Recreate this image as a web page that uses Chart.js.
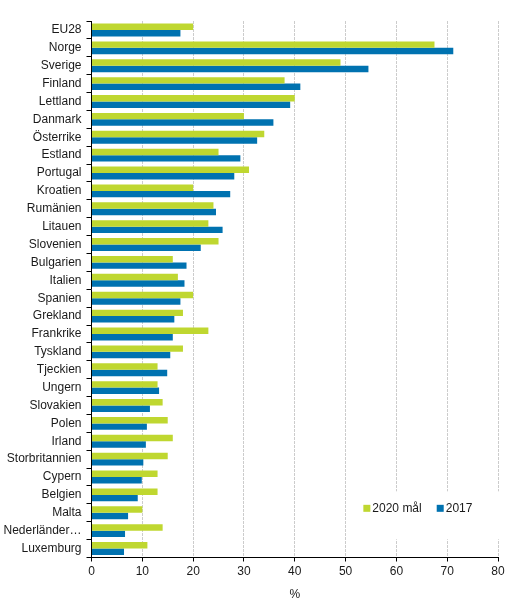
<!DOCTYPE html>
<html>
<head>
<meta charset="utf-8">
<script src="https://cdn.jsdelivr.net/npm/chart.js@4/dist/chart.umd.min.js"></script>
<style>
  html, body { margin: 0; padding: 0; background: #fff; }
  #wrap { width: 514px; height: 611px; position: relative; }
</style>
</head>
<body>
<div id="wrap"><canvas id="c"></canvas></div>
<script>
const categories = ["EU28","Norge","Sverige","Finland","Lettland","Danmark","Österrike","Estland","Portugal","Kroatien","Rumänien","Litauen","Slovenien","Bulgarien","Italien","Spanien","Grekland","Frankrike","Tyskland","Tjeckien","Ungern","Slovakien","Polen","Irland","Storbritannien","Cypern","Belgien","Malta","Nederländer…","Luxemburg"];
const target2020 = [20,67.5,49,38,40,30,34,25,31,20,24,23,25,16,17,20,18,23,18,13,13,14,15,16,15,13,13,10,14,11];
const share2017 = [17.5,71.2,54.5,41.1,39.1,35.8,32.6,29.3,28.1,27.3,24.5,25.8,21.5,18.7,18.3,17.5,16.3,16.0,15.5,14.9,13.3,11.5,10.9,10.7,10.2,9.9,9.1,7.2,6.6,6.4];
const seriesNames = ["2020 mål","2017"];
const seriesColors = ["#bfd730","#0072b0"];
const xTicks = [0,10,20,30,40,50,60,70,80];
const axisTitle = "%";

const FONT = "'Liberation Sans', Arial, sans-serif";

const insideLegend = {
  id: 'insideLegend',
  afterDatasetsDraw(chart) {
    const ctx = chart.ctx;
    const xs = chart.scales.x, ys = chart.scales.y;
    const x0 = xs.getPixelForValue(53.5);
    const yc = ys.getPixelForValue(26.75);
    ctx.save();
    ctx.fillStyle = '#fff';
    ctx.fillRect(xs.getPixelForValue(51.5), yc - 17, xs.getPixelForValue(80) - xs.getPixelForValue(51.5) + 3, 48);
    ctx.font = "12px " + FONT;
    ctx.textBaseline = 'middle';
    let x = x0;
    seriesNames.forEach((name, i) => {
      ctx.fillStyle = seriesColors[i];
      ctx.fillRect(x, yc - 3.5, 7, 7);
      ctx.fillStyle = '#1a1a1a';
      ctx.fillText(name, x + 9, yc);
      x += 9 + ctx.measureText(name).width + 15;
    });
    ctx.restore();
  }
};

new Chart(document.getElementById('c'), {
  type: 'bar',
  data: {
    labels: categories,
    datasets: [
      { label: seriesNames[0], data: target2020, backgroundColor: seriesColors[0] },
      { label: seriesNames[1], data: share2017, backgroundColor: seriesColors[1] }
    ]
  },
  options: {
    indexAxis: 'y',
    responsive: true,
    maintainAspectRatio: false,
    animation: false,
    datasets: { bar: { categoryPercentage: 0.72, barPercentage: 1.0 } },
    layout: { padding: { top: 21, right: 16, left: 0, bottom: 0 } },
    plugins: {
      legend: { display: false },
      tooltip: { enabled: false }
    },
    scales: {
      x: {
        min: 0, max: 80,
        afterBuildTicks(scale) { scale.ticks = xTicks.map(v => ({ value: v })); },
        afterFit(scale) { scale.height = 53.5; },
        grid: { color: '#cccccc', tickColor: '#000', tickLength: 4, lineWidth: 1, tickBorderDash: [] },
        border: { color: '#000', width: 1, dash: [3, 1] },
        ticks: { color: '#1a1a1a', font: { family: FONT, size: 12 }, padding: 3 },
        title: { display: true, text: axisTitle, color: '#1a1a1a', font: { family: FONT, size: 12 }, padding: { top: 0, bottom: 9 } }
      },
      y: {
        afterFit(scale) { scale.width = 91.5; },
        grid: { offset: true, drawOnChartArea: false, tickColor: '#000', tickLength: 5 },
        border: { color: '#000', width: 1 },
        ticks: { color: '#1a1a1a', font: { family: FONT, size: 12 }, padding: 5, autoSkip: false }
      }
    }
  },
  plugins: [insideLegend]
});
</script>
</body>
</html>
